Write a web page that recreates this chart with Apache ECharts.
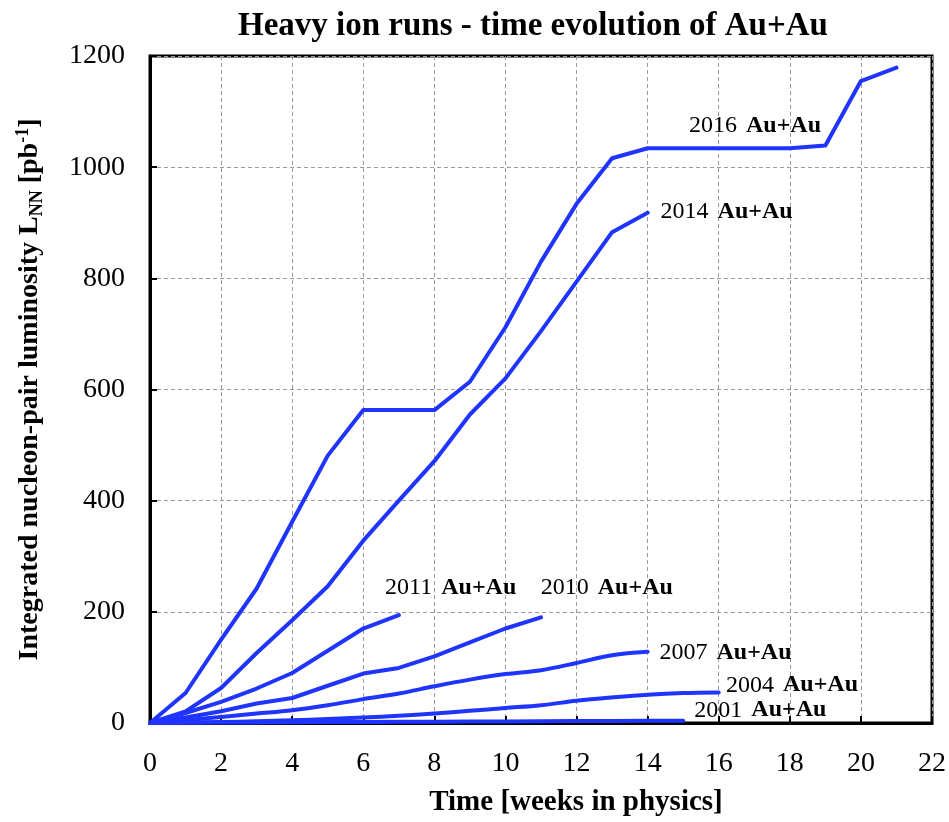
<!DOCTYPE html>
<html>
<head>
<meta charset="utf-8">
<script src="https://cdn.jsdelivr.net/npm/echarts@6/dist/echarts.min.js"></script>
<style>
html,body{margin:0;padding:0;background:#fff;}
#c{width:949px;height:822px;}
</style>
</head>
<body>
<div id="c"></div>
<script>
// ---- data ----
var xTicks = [0, 2, 4, 6, 8, 10, 12, 14, 16, 18, 20, 22];
var yTicks = [0, 200, 400, 600, 800, 1000, 1200];
var runNames = ['2016', '2014', '2011', '2010', '2007', '2004', '2001'];
var run2016 = [0, 54, 150, 242, 362, 481, 563, 563, 563, 614, 712, 830, 934, 1016, 1034, 1034, 1034, 1034, 1034, 1039, 1155, 1179];
var run2014 = [0, 21, 63, 126, 185, 246, 328, 400, 471, 555, 620, 705, 794, 883, 918];
var run2011 = [0, 18, 38, 62, 90, 130, 170, 194];
var run2010 = [0, 10, 21, 35, 45, 67, 89, 99, 120, 145, 170, 190];
var run2007 = [0, 5, 11, 17, 23, 32, 43, 53, 66, 78, 88, 95, 108, 122, 128];
var run2004 = [0, 1, 2, 3, 5, 7, 10, 13, 17, 22, 27, 32, 40, 46, 51, 54, 55];
var run2001 = [0, 0.4, 0.8, 1.1, 1.4, 1.6, 1.9, 2.1, 2.4, 2.6, 2.9, 3.1, 3.4, 3.6, 3.9, 4.1];
// label anchors in data units [week, luminosity]
var labelAnchors = [[15.15, 1075], [14.35, 919], [6.6, 244], [10.98, 244], [14.32, 127], [16.19, 68], [15.3, 23]];
var smoothing = [false, false, false, false, 0.35, 0.35, false];

var allRuns = [run2016, run2014, run2011, run2010, run2007, run2004, run2001];
var BLUE = '#1f34ff';
var SERIF = '"Liberation Serif","Times New Roman",serif';

function pairs(arr) {
  return arr.map(function (v, i) { return [i, v]; });
}

var series = allRuns.map(function (arr, k) {
  return {
    name: runNames[k],
    type: 'line',
    data: pairs(arr),
    showSymbol: false,
    symbol: 'none',
    smooth: smoothing[k],
    clip: false,
    z: 5,
    lineStyle: { color: BLUE, width: 4, cap: 'round', join: 'round' },
    markPoint: {
      symbol: 'circle',
      symbolSize: 1,
      itemStyle: { color: 'rgba(0,0,0,0)' },
      silent: true,
      data: [{
        coord: labelAnchors[k],
        label: {
          show: true,
          position: 'right',
          distance: 0,
          formatter: '{n|' + runNames[k] + ' }{b|Au+Au}',
          rich: {
            n: { fontFamily: SERIF, fontSize: 24, color: '#000' },
            b: { fontFamily: SERIF, fontSize: 24, fontWeight: 'bold', color: '#000', padding: [0, 0, 0, 3] }
          }
        }
      }]
    }
  };
});

var chart = echarts.init(document.getElementById('c'), null, { renderer: 'canvas' });
chart.setOption({
  animation: false,
  backgroundColor: '#fff',
  title: {
    text: 'Heavy ion runs - time evolution of Au+Au',
    left: 233,
    top: 5,
    textStyle: { fontFamily: SERIF, fontSize: 33, fontWeight: 'bold', color: '#000' }
  },
  grid: {
    left: 150, right: 12, top: 56, bottom: 95,
    show: true, borderColor: '#000', borderWidth: 3, backgroundColor: 'transparent'
  },
  xAxis: {
    type: 'value',
    min: xTicks[0], max: xTicks[xTicks.length - 1], interval: 2,
    name: 'Time [weeks in physics]',
    nameLocation: 'middle',
    nameGap: 65,
    nameTextStyle: { fontFamily: SERIF, fontSize: 29, fontWeight: 'bold', color: '#000', padding: [0, 0, 0, 70] },
    axisLine: { lineStyle: { color: '#000', width: 3 } },
    axisTick: { inside: true, length: 7, lineStyle: { color: '#000', width: 2 } },
    axisLabel: { fontFamily: SERIF, fontSize: 28, color: '#000', margin: 27,
      formatter: function (v) { return xTicks.indexOf(v) >= 0 ? String(v) : ''; } },
    splitLine: { show: true, lineStyle: { color: '#9a9a9a', width: 1, type: [4, 3] } }
  },
  yAxis: {
    type: 'value',
    min: yTicks[0], max: yTicks[yTicks.length - 1], interval: 200,
    name: '{t|Integrated nucleon-pair luminosity L}{s|NN}{t| [pb}{p|-1}{t|]}',
    nameLocation: 'middle',
    nameRotate: 90,
    nameGap: 104,
    nameTextStyle: {
      color: '#000',
      rich: {
        t: { fontFamily: SERIF, fontSize: 28, fontWeight: 'bold', color: '#000', lineHeight: 32 },
        s: { fontFamily: SERIF, fontSize: 18, fontWeight: 'bold', color: '#000', verticalAlign: 'bottom', lineHeight: 18 },
        p: { fontFamily: SERIF, fontSize: 18, fontWeight: 'bold', color: '#000', verticalAlign: 'top', lineHeight: 18 }
      }
    },
    axisLine: { lineStyle: { color: '#000', width: 3 } },
    axisTick: { inside: true, length: 7, lineStyle: { color: '#000', width: 2 } },
    axisLabel: { fontFamily: SERIF, fontSize: 28, color: '#000', margin: 25,
      formatter: function (v) { return yTicks.indexOf(v) >= 0 ? String(v) : ''; } },
    splitLine: { show: true, lineStyle: { color: '#9a9a9a', width: 1, type: [4, 3] } }
  },
  series: series
});
</script>
</body>
</html>
